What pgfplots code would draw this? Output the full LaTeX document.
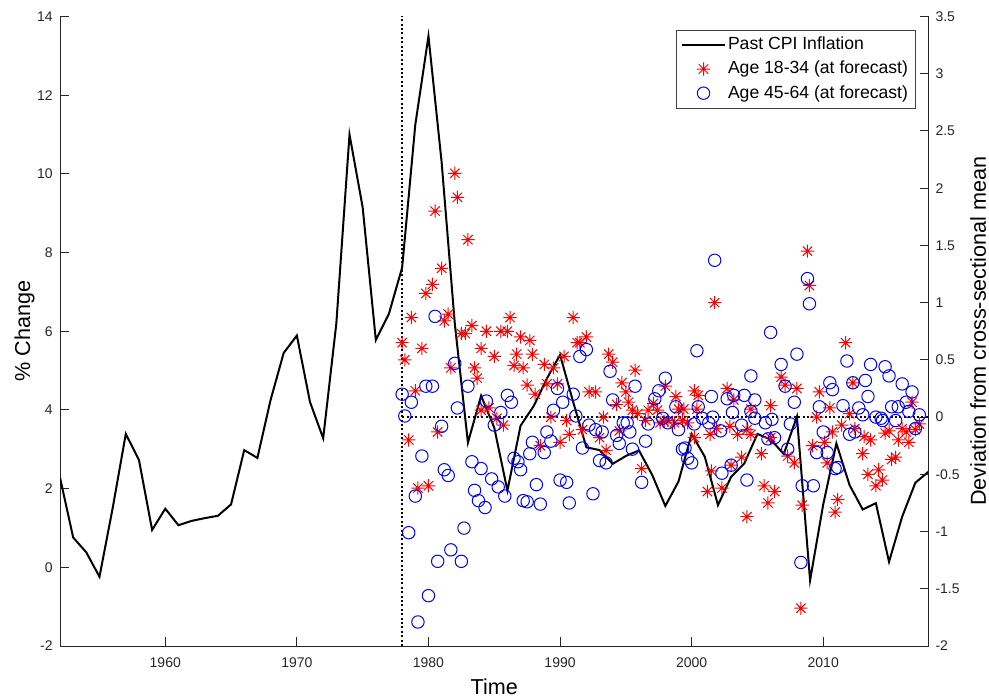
\documentclass[border=0pt]{standalone}
\usepackage{fontspec}
\setmainfont{Liberation Sans}
\usepackage{pgfplots}
\pgfplotsset{compat=1.18}

\pgfdeclareplotmark{mstar}{%
  \pgfpathmoveto{\pgfqpoint{-\pgfplotmarksize}{0pt}}%
  \pgfpathlineto{\pgfqpoint{\pgfplotmarksize}{0pt}}%
  \pgfpathmoveto{\pgfqpoint{0pt}{-\pgfplotmarksize}}%
  \pgfpathlineto{\pgfqpoint{0pt}{\pgfplotmarksize}}%
  \pgfpathmoveto{\pgfqpoint{-0.7071\pgfplotmarksize}{-0.7071\pgfplotmarksize}}%
  \pgfpathlineto{\pgfqpoint{0.7071\pgfplotmarksize}{0.7071\pgfplotmarksize}}%
  \pgfpathmoveto{\pgfqpoint{-0.7071\pgfplotmarksize}{0.7071\pgfplotmarksize}}%
  \pgfpathlineto{\pgfqpoint{0.7071\pgfplotmarksize}{-0.7071\pgfplotmarksize}}%
  \pgfusepathqstroke}

\pgfplotsset{
  common/.style={
    scale only axis, width=434.25pt, height=314.75pt,
    xmin=1952, xmax=2018,
    tick align=inside, major tick length=4.4pt,
    axis line style={-, draw=black!85, line width=0.5pt},
    tick style={draw=black!85, line width=0.5pt},
    tick label style={font=\fontsize{7}{8}\selectfont, text=black!85},
    /pgf/number format/assume math mode=true,
    /pgf/number format/1000 sep={},
  }
}

\begin{document}
\begin{tikzpicture}
\begin{axis}[common, name=ax,
  axis x line*=bottom, axis y line*=left,
  ymin=-2, ymax=14, ytick={-2,0,2,4,6,8,10,12,14},
  xtick={1960,1970,1980,1990,2000,2010},
  xticklabel style={inner sep=0pt, yshift=-5.5pt},
  yticklabel style={inner sep=0pt, xshift=-3.5pt},
  xlabel={Time},
  xlabel style={at={(axis description cs:0.5,-0.0509)}, anchor=north, inner sep=0pt, font=\fontsize{10.8}{12}\selectfont},
  ylabel={\% Change},
  ylabel style={at={(axis description cs:-0.0288,0.5)}, anchor=south, inner sep=0pt, font=\fontsize{10.8}{12}\selectfont},
]
\addplot[black, line width=1pt, dash pattern=on 1pt off 1.2pt] coordinates {(1978,-2) (1978,14)};
\addplot[black, line width=1pt] coordinates {
(1952,2.28) (1953,0.76) (1954,0.38) (1955,-0.24) (1956,1.5) (1957,3.39) (1958,2.73) (1959,0.95)
(1960,1.49) (1961,1.07) (1962,1.18) (1963,1.25) (1964,1.31) (1965,1.6) (1966,2.98) (1967,2.78)
(1968,4.25) (1969,5.45) (1970,5.89) (1971,4.2) (1972,3.28) (1973,6.2) (1974,11.0) (1975,9.15)
(1976,5.78) (1977,6.45) (1978,7.62) (1979,11.25) (1980,13.5) (1981,10.3) (1982,6.2) (1983,3.17)
(1984,4.36) (1985,3.55) (1986,1.95) (1987,3.6) (1988,4.1) (1989,4.8) (1990,5.4) (1991,4.2)
(1992,3.05) (1993,2.98) (1994,2.63) (1995,2.83) (1996,2.97) (1997,2.35) (1998,1.56) (1999,2.18)
(2000,3.39) (2001,2.81) (2002,1.58) (2003,2.3) (2004,2.64) (2005,3.39) (2006,3.25) (2007,2.88)
(2008,3.83) (2009,-0.33) (2010,1.6) (2011,3.15) (2012,2.09) (2013,1.47) (2014,1.63) (2015,0.14)
(2016,1.29) (2017,2.15) (2018,2.43)};
\end{axis}

\begin{axis}[common,
  axis x line=none, axis y line*=right,
  ymin=-2, ymax=3.5,
  ytick={-2,-1.5,-1,-0.5,0,0.5,1,1.5,2,2.5,3,3.5},
  yticklabel style={inner sep=0pt, xshift=3.3pt},
  ylabel={Deviation from cross-sectional mean},
  ylabel style={at={(axis description cs:1.0668,0.5)}, anchor=south, inner sep=0pt, font=\fontsize{10.8}{12}\selectfont},
  legend style={at={(axis description cs:1,1)}, anchor=north east, xshift=-6.5pt, yshift=-6.5pt,
    draw=black!75, line width=0.5pt, fill=white, font=\fontsize{8.8}{10}\selectfont,
    inner sep=2.5pt, row sep=2.2pt, nodes={inner sep=1pt}, cells={anchor=west}},
  legend image code/.code={\draw[mark repeat=2, mark phase=2, #1] plot coordinates {(0pt,0pt) (10.75pt,0pt) (21.5pt,0pt)};},
]
\addlegendimage{black, line width=1pt}
\addlegendentry{Past CPI Inflation}
\addplot[black, line width=1pt, dash pattern=on 1pt off 1.2pt, forget plot] coordinates {(1978,0) (2018,0)};
\addplot[only marks, mark=mstar, mark size=3.3pt, red, mark options={line width=0.5pt}] coordinates {
(1982.0,2.13) (1982.2,1.92) (1980.5,1.80) (1983.0,1.55) (1981.0,1.30) (1980.3,1.16) (1979.8,1.08)
(1978.7,0.87) (1981.5,0.90) (1981.2,0.84) (1982.5,0.73) (1982.8,0.73) (1983.3,0.80) (1978.0,0.65)
(1979.5,0.60) (1978.2,0.50) (1979.0,0.23) (1981.7,0.43) (1984.4,0.75) (1985.5,0.75) (1986.0,0.75)
(1986.2,0.87) (1987.0,0.70) (1987.7,0.67) (1984.0,0.60) (1985.0,0.53) (1986.7,0.55) (1987.9,0.55)
(1986.5,0.45) (1987.2,0.43) (1983.5,0.43) (1983.7,0.34) (1987.5,0.28) (1988.1,0.20) (1984.0,0.06)
(1984.6,0.08) (1985.2,-0.01) (1985.7,-0.07) (1980.7,-0.13) (1978.5,-0.20) (1979.2,-0.62) (1980.0,-0.60)
(1991.0,0.87) (1991.3,0.65) (1991.5,0.65) (1992.0,0.70) (1988.8,0.46) (1989.5,0.43) (1990.3,0.53)
(1993.7,0.55) (1994.0,0.48) (1995.7,0.41) (1989.0,0.29) (1989.8,0.29) (1992.2,0.22) (1992.7,0.22)
(1994.7,0.30) (1995.0,0.22) (1994.3,0.11) (1995.2,0.13) (1995.5,0.06) (1995.9,0.03) (1996.7,0.06)
(1997.1,0.12) (1997.4,0.06) (1989.3,0.0) (1990.5,-0.03) (1993.3,0.0) (1990.7,-0.15) (1991.7,-0.11)
(1990.0,-0.22) (1988.5,-0.25) (1993.0,-0.18) (1994.5,-0.12) (1993.5,-0.29) (1996.2,-0.45) (1996.5,-0.03)
(1997.6,-0.05) (1997.9,-0.04)
(2001.75,1.00) (2006.8,0.35) (2007.1,0.28) (2008.0,0.25) (1998.0,0.27) (1998.8,0.18) (2000.2,0.23)
(2000.5,0.19) (2002.7,0.25) (2003.2,0.15) (1999.0,0.07) (1999.4,0.07) (2000.4,0.07) (2004.5,0.07)
(2006.0,0.10) (1998.2,-0.03) (1998.7,-0.05) (1999.3,-0.03) (1999.7,-0.05) (2000.2,-0.18) (2001.4,-0.15)
(2001.9,-0.10) (2002.9,-0.08) (2003.5,-0.15) (2004.2,-0.11) (2004.5,-0.15) (2006.0,-0.18) (2007.3,-0.34)
(2007.8,-0.40) (2005.3,-0.32) (2003.8,-0.35) (2003.0,-0.42) (2001.5,-0.47) (2002.3,-0.62) (2001.2,-0.65)
(2005.5,-0.60) (2006.3,-0.65) (2005.8,-0.75) (2004.2,-0.87) (2008.4,-0.77)
(2008.8,1.45) (2008.95,1.15) (2011.7,0.65) (2012.25,0.30) (2009.7,0.22) (2016.75,0.13) (2010.5,0.08)
(2009.5,0.0) (2012.0,0.03) (2011.4,-0.07) (2012.4,-0.10) (2010.7,-0.13) (2013.1,-0.17) (2013.6,-0.20)
(2014.7,-0.14) (2015.0,-0.12) (2016.0,-0.10) (2016.3,-0.13) (2017.0,-0.11) (2017.3,-0.06) (2015.7,-0.20)
(2016.5,-0.22) (2009.2,-0.25) (2010.1,-0.22) (2010.3,-0.40) (2013.0,-0.32) (2015.2,-0.37) (2015.5,-0.35)
(2013.4,-0.50) (2014.2,-0.46) (2014.5,-0.55) (2014.0,-0.60) (2011.1,-0.72) (2010.9,-0.83) (2008.3,-1.67)
};
\addlegendentry{Age 18-34 (at forecast)}
\addplot[only marks, mark=o, mark size=3.1pt, blue, mark options={line width=0.5pt}] coordinates {
(1980.5,0.88) (1978.0,0.20) (1978.7,0.13) (1979.8,0.27) (1980.3,0.27) (1978.2,0.01) (1982.0,0.47)
(1983.0,0.27) (1982.2,0.08) (1981.0,-0.08) (1984.4,0.14) (1985.5,0.04) (1986.0,0.19) (1986.3,0.13)
(1985.0,-0.07) (1979.5,-0.34) (1981.2,-0.46) (1981.5,-0.51) (1983.3,-0.39) (1984.0,-0.45) (1984.8,-0.54)
(1985.3,-0.61) (1985.8,-0.69) (1983.5,-0.64) (1983.8,-0.73) (1984.3,-0.79) (1986.5,-0.36) (1986.8,-0.39)
(1987.0,-0.46) (1987.9,-0.22) (1987.7,-0.32) (1987.2,-0.73) (1987.5,-0.74) (1979.0,-0.69) (1978.5,-1.01)
(1982.7,-0.97) (1981.7,-1.16) (1980.7,-1.26) (1982.5,-1.26) (1980.0,-1.56) (1979.2,-1.79)
(1992.0,0.59) (1991.5,0.53) (1993.8,0.40) (1995.7,0.27) (1989.8,0.25) (1991.0,0.20) (1990.2,0.13)
(1994.0,0.15) (1997.2,0.16) (1997.5,0.23) (1989.5,0.06) (1991.2,0.01) (1989.0,-0.13) (1989.3,-0.21)
(1988.8,-0.31) (1992.2,-0.07) (1992.7,-0.11) (1993.2,-0.13) (1994.3,-0.16) (1994.5,-0.23) (1994.8,-0.05)
(1995.1,-0.05) (1995.3,-0.13) (1996.5,-0.21) (1991.7,-0.27) (1993.0,-0.38) (1993.5,-0.40) (1995.5,-0.28)
(1996.2,-0.57) (1996.7,-0.06) (1997.8,-0.01) (1988.2,-0.59) (1990.0,-0.55) (1990.5,-0.57) (1988.5,-0.76)
(1990.7,-0.75) (1992.5,-0.67)
(2001.75,1.37) (2006.0,0.74) (2000.4,0.58) (2008.0,0.55) (2006.8,0.46) (2004.5,0.36) (2007.1,0.27)
(1998.0,0.34) (2001.5,0.18) (2002.7,0.16) (2003.2,0.19) (2004.0,0.19) (2004.8,0.15) (2007.8,0.13)
(1998.8,0.09) (2000.5,0.09) (2003.1,0.04) (2001.6,0.0) (2004.5,0.05) (2004.8,-0.01) (2006.1,-0.02)
(1998.2,-0.05) (1999.0,-0.11) (2000.2,-0.06) (2000.8,-0.01) (2001.3,-0.05) (2002.2,-0.12) (2003.8,-0.07)
(2005.6,-0.05) (2007.5,-0.06) (2005.8,-0.19) (2006.3,-0.18) (1999.3,-0.28) (1999.5,-0.27) (1999.7,-0.36)
(2000.0,-0.40) (2007.3,-0.28) (2002.3,-0.49) (2003.0,-0.42) (2004.2,-0.55) (2008.4,-0.60) (2008.3,-1.27)
(2008.8,1.21) (2008.95,0.99) (2011.8,0.49) (2013.6,0.46) (2014.7,0.44) (2015.0,0.36) (2012.25,0.30)
(2013.2,0.32) (2010.5,0.30) (2010.7,0.24) (2016.0,0.29) (2016.75,0.22) (2013.4,0.18) (2009.7,0.09)
(2011.5,0.10) (2012.7,0.08) (2015.2,0.09) (2015.7,0.09) (2016.3,0.13) (2016.5,0.05) (2017.3,0.02)
(2013.0,0.02) (2014.0,0.0) (2014.4,-0.01) (2014.5,-0.03) (2015.5,-0.03) (2010.0,-0.13) (2012.0,-0.15)
(2012.4,-0.13) (2017.0,-0.10) (2009.5,-0.31) (2010.3,-0.31) (2010.9,-0.45) (2011.1,-0.44) (2009.25,-0.60)
};
\addlegendentry{Age 45-64 (at forecast)}
\end{axis}
\pgfresetboundingbox
\path ([shift={(-30pt,-25pt)}]ax.south west) rectangle ([shift={(30.25pt,8.25pt)}]ax.north east);
\end{tikzpicture}
\end{document}
